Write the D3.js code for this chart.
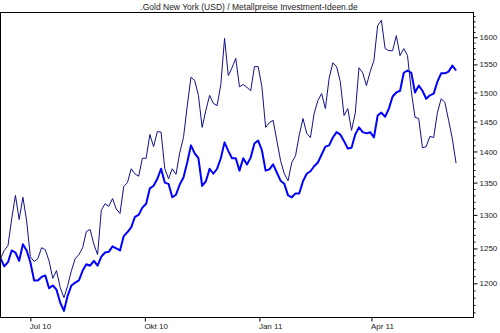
<!DOCTYPE html>
<html><head><meta charset="utf-8">
<script src="https://cdn.jsdelivr.net/npm/d3@7"></script>
<style>
html,body{margin:0;padding:0;background:#fff;}
svg{display:block;}
text{font-family:Arial,"Liberation Sans",sans-serif;}
</style></head>
<body>
<svg id="chart" width="500" height="333"></svg>
<script>
const title = ".Gold New York (USD) / Metallpreise Investment-Ideen.de";
const dates = ["2010-06-07","2010-06-10","2010-06-13","2010-06-16","2010-06-19","2010-06-22","2010-06-25","2010-06-28","2010-07-01","2010-07-04","2010-07-07","2010-07-10","2010-07-13","2010-07-16","2010-07-19","2010-07-22","2010-07-25","2010-07-28","2010-07-31","2010-08-03","2010-08-06","2010-08-09","2010-08-12","2010-08-15","2010-08-18","2010-08-21","2010-08-24","2010-08-27","2010-08-30","2010-09-02","2010-09-05","2010-09-08","2010-09-11","2010-09-14","2010-09-17","2010-09-20","2010-09-23","2010-09-26","2010-09-29","2010-10-02","2010-10-05","2010-10-08","2010-10-11","2010-10-14","2010-10-17","2010-10-20","2010-10-23","2010-10-26","2010-10-29","2010-11-01","2010-11-04","2010-11-07","2010-11-10","2010-11-13","2010-11-16","2010-11-19","2010-11-22","2010-11-25","2010-11-28","2010-12-01","2010-12-04","2010-12-07","2010-12-10","2010-12-13","2010-12-16","2010-12-19","2010-12-22","2010-12-25","2010-12-28","2010-12-31","2011-01-03","2011-01-06","2011-01-09","2011-01-12","2011-01-15","2011-01-18","2011-01-21","2011-01-24","2011-01-27","2011-01-30","2011-02-02","2011-02-05","2011-02-08","2011-02-11","2011-02-14","2011-02-17","2011-02-20","2011-02-23","2011-02-26","2011-03-01","2011-03-04","2011-03-07","2011-03-10","2011-03-13","2011-03-16","2011-03-19","2011-03-22","2011-03-25","2011-03-28","2011-03-31","2011-04-03","2011-04-06","2011-04-09","2011-04-12","2011-04-15","2011-04-18","2011-04-21","2011-04-24","2011-04-27","2011-04-30","2011-05-03","2011-05-06","2011-05-09","2011-05-12","2011-05-15","2011-05-18","2011-05-21","2011-05-24","2011-05-27","2011-05-30","2011-06-02","2011-06-05","2011-06-08"];
// thick blue series
const goldUSD = [1236,1224,1230,1247,1244,1232,1256,1247,1230,1204,1204,1209,1211,1193,1197,1191,1173,1162,1183,1197,1201,1204,1218,1227,1225,1232,1225,1238,1244,1245,1253,1250,1247,1268,1274,1281,1297,1300,1311,1317,1341,1345,1356,1372,1350,1348,1327,1331,1347,1358,1382,1410,1397,1389,1345,1352,1372,1364,1372,1389,1415,1401,1389,1389,1369,1389,1379,1390,1413,1418,1402,1369,1371,1379,1366,1353,1348,1330,1327,1333,1333,1352,1364,1368,1376,1382,1395,1408,1410,1423,1432,1428,1417,1405,1406,1428,1440,1432,1430,1432,1423,1460,1465,1458,1472,1493,1500,1503,1535,1539,1535,1500,1512,1503,1489,1495,1498,1519,1534,1534,1537,1548,1539];
// thin navy series
const goldRel = [1235,1247,1254,1294,1330,1293,1327,1291,1238,1231,1235,1251,1248,1232,1207,1218,1194,1180,1197,1218,1235,1241,1251,1275,1278,1256,1241,1307,1317,1313,1325,1309,1302,1344,1350,1372,1364,1360,1389,1389,1428,1408,1433,1432,1372,1356,1372,1363,1398,1423,1476,1527,1521,1495,1440,1469,1495,1481,1477,1514,1598,1530,1544,1561,1510,1514,1509,1503,1546,1546,1510,1440,1448,1452,1418,1385,1364,1353,1382,1393,1427,1455,1430,1423,1464,1486,1498,1472,1525,1553,1546,1519,1460,1472,1435,1464,1544,1535,1512,1537,1557,1622,1632,1579,1575,1575,1603,1566,1579,1566,1503,1457,1455,1406,1408,1425,1423,1465,1489,1483,1452,1421,1381];
const yMajor = [1200,1250,1300,1350,1400,1450,1500,1550,1600];
const yMinor = [1160,1170,1180,1190,1210,1220,1230,1240,1260,1270,1280,1290,1310,1320,1330,1340,1360,1370,1380,1390,1410,1420,1430,1440,1460,1470,1480,1490,1510,1520,1530,1540,1560,1570,1580,1590,1610,1620,1630,1640];
const xTickDates = ["2010-07-01","2010-10-01","2011-01-01","2011-04-01"];
const xTickLabels = ["Jul 10","Okt 10","Jan 11","Apr 11"];

const parse = d3.timeParse("%Y-%m-%d");
const L = 0.5, R = 473.5, T = 12.5, B = 317.5;
const svg = d3.select("#chart");

const x = d3.scaleTime().domain([parse("2010-06-07"), parse("2011-06-22")]).range([L, R]);
const y = d3.scaleLog().domain([1153, 1647]).range([B, T]);

svg.append("text").attr("x", 249).attr("y", 9.5).attr("text-anchor","middle")
  .attr("font-size", "8.5px").attr("fill","#222").text(title);

svg.append("clipPath").attr("id","clip").append("rect")
  .attr("x", L).attr("y", T).attr("width", R-L).attr("height", B-T);

const pts1 = dates.map((d,i)=>({d:parse(d), v:goldUSD[i]}));
const pts2 = dates.map((d,i)=>({d:parse(d), v:goldRel[i]}));
const line = d3.line().x(p=>x(p.d)).y(p=>y(p.v));

const g = svg.append("g").attr("clip-path","url(#clip)");
g.append("path").datum(pts1).attr("d", line).attr("fill","none")
  .attr("stroke","#0000ff").attr("stroke-width",2).attr("stroke-linejoin","round");
g.append("path").datum(pts2).attr("d", line).attr("fill","none")
  .attr("stroke","#10108a").attr("stroke-width",1);

svg.append("rect").attr("x", L).attr("y", T).attr("width", R-L).attr("height", B-T)
  .attr("fill","none").attr("stroke","#000").attr("stroke-width",1);

// right axis
const yAxisMinor = svg.append("g").attr("transform", `translate(${R},0)`)
  .call(d3.axisRight(y).tickValues(yMinor).tickSize(2).tickFormat(""));
const yAxis = svg.append("g").attr("transform", `translate(${R},0)`)
  .call(d3.axisRight(y).tickValues(yMajor).tickSize(4).tickPadding(2).tickFormat(d3.format("d")));
[yAxis, yAxisMinor].forEach(a=>{ a.select(".domain").remove(); a.selectAll("line").attr("stroke","#000"); });
yAxis.selectAll("text").attr("font-size","8px").attr("fill","#222").attr("font-family","Arial, 'Liberation Sans', sans-serif");

// bottom axis
const xt = xTickDates.map(parse);
const xAxis = svg.append("g").attr("transform", `translate(0,${B})`)
  .call(d3.axisBottom(x).tickValues(xt).tickSize(4).tickPadding(2)
    .tickFormat((d,i)=>xTickLabels[i]));
xAxis.select(".domain").remove();
xAxis.selectAll("line").attr("stroke","#000");
xAxis.selectAll("text").attr("text-anchor","start").attr("dx","-1")
  .attr("font-size","8px").attr("fill","#222").attr("font-family","Arial, 'Liberation Sans', sans-serif");
</script>
</body></html>
